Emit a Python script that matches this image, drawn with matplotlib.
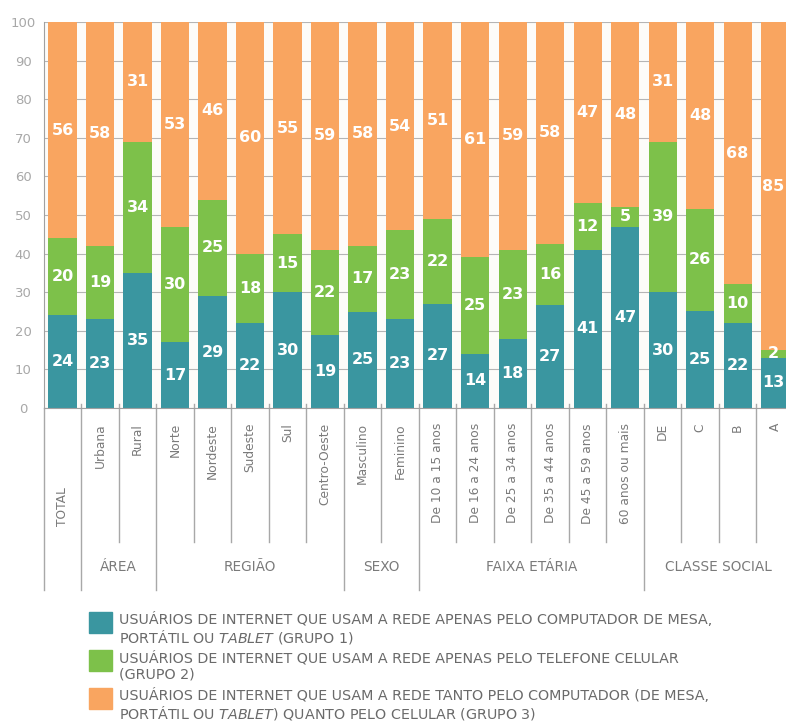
import numpy as np
import matplotlib
matplotlib.use("Agg")
import matplotlib.pyplot as plt
from matplotlib.transforms import blended_transform_factory
from matplotlib.patches import Rectangle

categories = ["TOTAL", "Urbana", "Rural", "Norte", "Nordeste", "Sudeste", "Sul",
              "Centro-Oeste", "Masculino", "Feminino", "De 10 a 15 anos",
              "De 16 a 24 anos", "De 25 a 34 anos", "De 35 a 44 anos",
              "De 45 a 59 anos", "60 anos ou mais", "DE", "C", "B", "A"]
grupo1 = [24, 23, 35, 17, 29, 22, 30, 19, 25, 23, 27, 14, 18, 27, 41, 47, 30, 25, 22, 13]
grupo2 = [20, 19, 34, 30, 25, 18, 15, 22, 17, 23, 22, 25, 23, 16, 12, 5, 39, 26, 10, 2]
grupo3 = [56, 58, 31, 53, 46, 60, 55, 59, 58, 54, 51, 61, 59, 58, 47, 48, 31, 48, 68, 85]
groups = [("ÁREA", 1, 2), ("REGIÃO", 3, 7), ("SEXO", 8, 9),
          ("FAIXA ETÁRIA", 10, 15), ("CLASSE SOCIAL", 16, 19)]
yticks = [0, 10, 20, 30, 40, 50, 60, 70, 80, 90, 100]
legend_lines = [
    ["USUÁRIOS DE INTERNET QUE USAM A REDE APENAS PELO COMPUTADOR DE MESA,",
     r"PORTÁTIL OU $\it{TABLET}$ (GRUPO 1)"],
    ["USUÁRIOS DE INTERNET QUE USAM A REDE APENAS PELO TELEFONE CELULAR",
     "(GRUPO 2)"],
    ["USUÁRIOS DE INTERNET QUE USAM A REDE TANTO PELO COMPUTADOR (DE MESA,",
     r"PORTÁTIL OU $\it{TABLET}$) QUANTO PELO CELULAR (GRUPO 3)"],
]

TEAL = "#3a96a0"
GREEN = "#7dc14a"
ORANGE = "#f9a560"
colors = [TEAL, GREEN, ORANGE]

W, H = 786, 725
fig = plt.figure(figsize=(W / 100, H / 100), dpi=100)
fig.patch.set_facecolor("white")

def fx(px):
    return px / W

def fy(py):
    return 1 - py / H

ax = fig.add_axes([fx(44), fy(408), fx(786 - 44), (408 - 22) / H])
ax.set_facecolor("#fdfcf9")

x = np.arange(len(categories))
g1 = np.array(grupo1, float)
g2 = np.array(grupo2, float)
g3 = np.array(grupo3, float)
tot = g1 + g2 + g3
p1, p2, p3 = g1 / tot * 100, g2 / tot * 100, g3 / tot * 100

bw = 0.75
b1 = ax.bar(x, p1, bw, color=TEAL, zorder=2)
b2 = ax.bar(x, p2, bw, bottom=p1, color=GREEN, zorder=2)
b3 = ax.bar(x, p3, bw, bottom=p1 + p2, color=ORANGE, zorder=2)
for cont, vals in ((b1, grupo1), (b2, grupo2), (b3, grupo3)):
    ax.bar_label(cont, labels=[str(v) for v in vals], label_type="center",
                 color="white", fontsize=11.5, fontweight="bold")

ax.set_xlim(-0.493, 19.29)
ax.set_ylim(0, 100)
ax.set_yticks(yticks)
ax.set_yticklabels([str(v) for v in yticks])
for lab in ax.get_yticklabels():
    lab.set_horizontalalignment("center")
ax.tick_params(axis="y", length=0, pad=15.1, labelsize=9.5, labelcolor="#a8a8a8")
ax.set_xticks([])
ax.yaxis.grid(True, color="#b5b5b5", lw=0.8, zorder=0)
ax.set_axisbelow(True)
for s in ("top", "right"):
    ax.spines[s].set_visible(False)
ax.spines["left"].set_color("#a0a0a0")
ax.spines["bottom"].set_color("#a0a0a0")

# separators below the axis
tr = blended_transform_factory(ax.transData, fig.transFigure)
long_seps = [-0.493, 0.5, 2.5, 7.5, 9.5, 15.5]
for i in range(len(categories) - 1):
    xs = i + 0.5
    if xs in long_seps:
        continue
    ax.plot([xs, xs], [fy(404), fy(542)], transform=tr, color="#a8a8a8",
            lw=1, clip_on=False, zorder=1)
for xs in long_seps:
    top = fy(408) if xs < 0 else fy(404)
    ax.plot([xs, xs], [top, fy(590)], transform=tr, color="#a8a8a8",
            lw=1, clip_on=False, zorder=1)

# category labels
for i, c in enumerate(categories):
    if i == 0:
        ax.text(i, fy(507), c, transform=tr, rotation=90, ha="center",
                va="center", fontsize=8.8, color="#7a7a7a")
    else:
        ax.text(i, fy(423), c, transform=tr, rotation=90, ha="center",
                va="top", fontsize=8.8, color="#7a7a7a")

# group labels
for name, a, b in groups:
    ax.text((a + b) / 2, fy(567), name, transform=tr, ha="center",
            va="center", fontsize=9.8, color="#7a7a7a")

# legend
tops = [612, 650, 688]
for k in range(3):
    fig.add_artist(Rectangle((fx(89), fy(tops[k] + 21)), fx(23), 21 / H,
                             transform=fig.transFigure, color=colors[k]))
    for j, line in enumerate(legend_lines[k]):
        fig.text(fx(119), fy(tops[k] + 8 + 17 * j), line, ha="left",
                 va="center", fontsize=10.3, color="#6a6a6a")

fig.savefig("out.png", dpi=100, facecolor="white")
